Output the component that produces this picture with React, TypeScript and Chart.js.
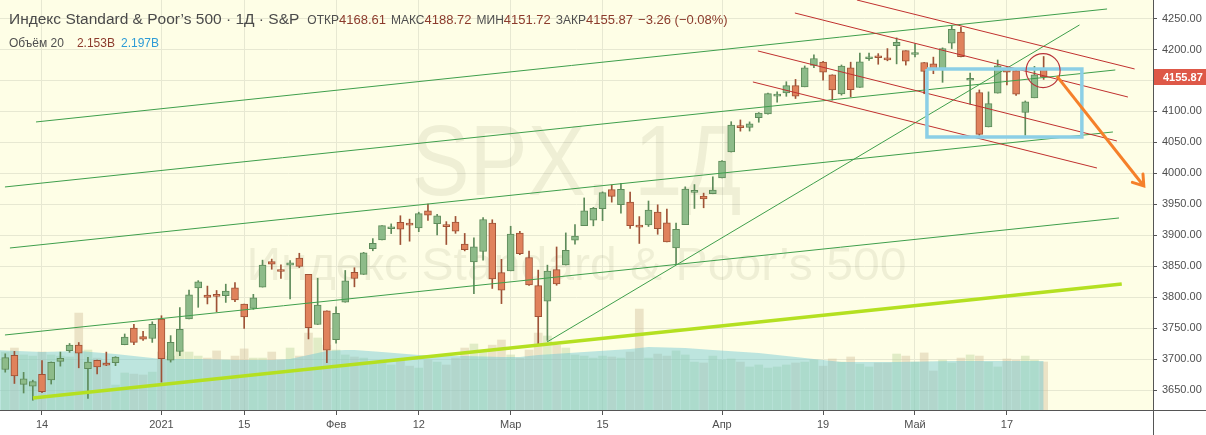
import React, { useEffect, useRef } from 'react';
import { Chart, registerables } from 'chart.js';

Chart.register(...registerables);

const FONT = "'Liberation Sans', Arial, sans-serif";

// ---- data ----
const dates: string[] = [
  '2020-12-08','2020-12-09','2020-12-10','2020-12-11','2020-12-14','2020-12-15','2020-12-16','2020-12-17','2020-12-18','2020-12-21','2020-12-22','2020-12-23','2020-12-24','2020-12-28','2020-12-29','2020-12-30','2020-12-31',
  '2021-01-04','2021-01-05','2021-01-06','2021-01-07','2021-01-08','2021-01-11','2021-01-12','2021-01-13','2021-01-14','2021-01-15','2021-01-19','2021-01-20','2021-01-21','2021-01-22','2021-01-25','2021-01-26','2021-01-27','2021-01-28','2021-01-29',
  '2021-02-01','2021-02-02','2021-02-03','2021-02-04','2021-02-05','2021-02-08','2021-02-09','2021-02-10','2021-02-11','2021-02-12','2021-02-16','2021-02-17','2021-02-18','2021-02-19','2021-02-22','2021-02-23','2021-02-24','2021-02-25','2021-02-26',
  '2021-03-01','2021-03-02','2021-03-03','2021-03-04','2021-03-05','2021-03-08','2021-03-09','2021-03-10','2021-03-11','2021-03-12','2021-03-15','2021-03-16','2021-03-17','2021-03-18','2021-03-19','2021-03-22','2021-03-23','2021-03-24','2021-03-25','2021-03-26','2021-03-29','2021-03-30','2021-03-31',
  '2021-04-01','2021-04-05','2021-04-06','2021-04-07','2021-04-08','2021-04-09','2021-04-12','2021-04-13','2021-04-14','2021-04-15','2021-04-16','2021-04-19','2021-04-20','2021-04-21','2021-04-22','2021-04-23','2021-04-26','2021-04-27','2021-04-28','2021-04-29','2021-04-30',
  '2021-05-03','2021-05-04','2021-05-05','2021-05-06','2021-05-07','2021-05-10','2021-05-11','2021-05-12','2021-05-13','2021-05-14','2021-05-17','2021-05-18','2021-05-19','2021-05-20','2021-05-21',
];

const openP: number[] = [
  3683.05,3705.98,3659.13,3656.08,3675.27,3666.41,3696.25,3713.65,3722.39,3684.28,3698.08,3693.42,3694.03,3723.03,3750.01,3736.19,3733.27,
  3764.61,3698.02,3712.20,3764.71,3815.05,3803.14,3801.62,3802.23,3814.98,3788.73,3781.88,3816.22,3857.46,3844.24,3851.68,3862.96,3836.83,3755.75,3778.05,
  3731.17,3791.84,3840.27,3836.66,3878.30,3892.59,3910.49,3920.78,3916.40,3911.65,3939.61,3918.50,3915.86,3921.16,3885.55,3857.07,3873.71,3919.74,3839.66,
  3842.51,3903.64,3863.99,3818.53,3793.58,3844.39,3851.93,3891.99,3915.54,3924.52,3942.96,3973.59,3949.57,3953.50,3913.14,3916.48,3937.60,3919.93,3879.34,3917.12,3969.31,3963.34,3967.25,
  3992.78,4034.44,4075.57,4074.29,4089.95,4096.11,4124.71,4130.10,4141.58,4139.76,4174.14,4179.80,4159.18,4128.42,4170.46,4138.78,4185.03,4188.25,4185.14,4206.14,4198.10,
  4191.98,4179.04,4177.06,4169.14,4210.34,4228.29,4150.34,4130.55,4074.99,4129.58,4169.92,4165.94,4098.45,4121.97,4168.61,
];
const highP: number[] = [
  3708.45,3712.39,3678.49,3665.91,3697.61,3695.29,3711.27,3725.12,3726.70,3702.90,3698.26,3711.24,3703.82,3740.51,3756.12,3744.63,3760.20,
  3769.99,3737.83,3783.04,3811.55,3826.69,3817.86,3810.78,3820.96,3823.60,3788.73,3804.53,3859.75,3861.45,3852.31,3859.23,3870.90,3836.83,3830.50,3778.05,
  3784.32,3843.09,3847.51,3872.42,3894.56,3915.77,3918.35,3931.50,3925.99,3937.23,3950.43,3933.61,3921.98,3930.41,3902.92,3895.98,3928.65,3925.02,3861.08,
  3914.50,3906.41,3874.47,3843.67,3851.69,3881.06,3903.76,3917.35,3960.27,3944.99,3970.08,3981.04,3983.87,3969.62,3930.12,3955.31,3949.13,3942.08,3919.54,3978.19,3981.83,3968.01,3994.41,
  4020.63,4083.42,4086.23,4083.13,4098.19,4129.48,4131.76,4148.00,4151.69,4173.49,4191.31,4180.81,4159.18,4175.02,4179.57,4194.17,4194.19,4193.35,4201.53,4218.78,4198.10,
  4209.39,4179.04,4187.72,4202.70,4238.04,4236.39,4162.04,4134.73,4131.58,4183.13,4171.92,4169.15,4116.93,4172.80,4188.72,
];
const lowP: number[] = [
  3678.83,3660.54,3645.18,3633.40,3645.84,3659.62,3688.57,3710.87,3685.84,3636.48,3676.16,3689.28,3689.32,3723.03,3723.31,3730.21,3726.88,
  3662.71,3695.07,3705.34,3764.71,3783.60,3789.02,3776.51,3791.50,3792.86,3749.62,3780.37,3816.22,3845.05,3830.41,3797.16,3847.78,3732.48,3755.75,3694.12,
  3725.62,3791.84,3816.68,3836.66,3874.93,3892.59,3902.64,3884.94,3890.39,3905.78,3923.85,3900.43,3885.03,3903.07,3874.71,3805.59,3859.60,3814.04,3789.54,
  3842.51,3868.57,3818.86,3723.34,3730.19,3819.25,3851.93,3885.73,3915.54,3915.21,3923.54,3953.44,3935.74,3910.86,3886.75,3914.16,3901.57,3889.07,3853.50,3917.12,3943.25,3944.35,3966.98,
  3992.78,4034.44,4068.14,4068.31,4082.54,4095.51,4114.82,4124.43,4120.87,4139.76,4170.75,4150.47,4118.38,4126.35,4123.69,4138.78,4182.36,4176.22,4181.78,4176.81,4174.85,
  4188.03,4128.59,4160.94,4147.02,4201.64,4188.13,4111.53,4056.88,4074.99,4129.58,4142.69,4125.99,4061.41,4121.97,4151.72,
];
const closeP: number[] = [
  3702.25,3672.82,3668.10,3663.46,3647.49,3694.62,3701.17,3722.48,3709.41,3694.92,3687.26,3690.01,3703.06,3735.36,3727.04,3732.04,3756.07,
  3700.65,3726.86,3748.14,3803.79,3824.68,3799.61,3801.19,3809.84,3795.54,3768.25,3798.91,3851.85,3853.07,3841.47,3855.36,3849.62,3750.77,3787.38,3714.24,
  3773.86,3826.31,3830.17,3871.74,3886.83,3915.59,3911.23,3909.88,3916.38,3934.83,3932.59,3931.33,3913.97,3906.71,3876.50,3881.37,3925.43,3829.34,3811.15,
  3901.82,3870.29,3819.72,3768.47,3841.94,3821.35,3875.44,3898.81,3939.34,3943.34,3968.94,3962.71,3974.12,3915.46,3913.10,3940.59,3910.52,3889.14,3909.52,3974.54,3971.09,3958.55,3972.89,
  4019.87,4077.91,4073.94,4079.95,4097.17,4128.80,4127.99,4141.59,4124.66,4170.42,4185.47,4163.26,4134.94,4173.42,4134.98,4180.17,4187.62,4186.72,4183.18,4211.47,4181.17,
  4192.66,4164.66,4167.59,4201.62,4232.60,4188.43,4152.10,4063.04,4112.50,4173.85,4163.29,4127.83,4115.68,4159.12,4155.87,
];

// volume in billions
const volumeB: number[] = [
  2.60,2.78,2.47,2.42,2.60,2.47,2.42,2.38,4.35,2.69,2.33,2.15,1.12,1.66,1.61,1.57,1.70,
  2.60,2.42,2.69,2.60,2.42,2.33,2.65,2.24,2.42,2.74,2.33,2.33,2.60,2.24,2.78,2.42,3.45,3.23,2.91,
  2.69,2.47,2.38,2.33,2.15,2.11,2.02,2.24,1.97,1.88,2.24,2.15,2.02,2.33,2.78,2.96,2.60,2.91,3.14,
  2.47,2.33,2.69,3.45,3.32,2.91,2.78,2.47,2.42,2.33,2.42,2.38,2.33,2.60,4.53,2.33,2.51,2.42,2.65,2.47,2.15,2.11,2.42,
  2.24,2.29,2.15,1.93,2.02,1.88,1.93,2.02,2.11,2.15,2.24,1.97,2.29,2.15,2.38,2.06,1.93,2.11,2.11,2.51,2.42,
  2.15,2.56,1.75,2.24,2.11,2.33,2.47,2.42,2.15,1.93,2.29,2.24,2.42,2.24,2.153,
];
// 20-bar volume average, read at [bar index, value]
const volumeMA: [number, number][] = [
  [-1, 2.69],[0, 2.67],[4, 2.60],[8, 2.65],[12, 2.51],[15, 2.38],[17, 2.29],[21, 2.29],[25, 2.24],[29, 2.24],
  [31, 2.29],[33, 2.47],[35, 2.65],[37, 2.69],[38, 2.69],[41, 2.60],[45, 2.47],[50, 2.42],[54, 2.38],[56, 2.38],
  [58, 2.47],[63, 2.60],[68, 2.74],[70, 2.83],[74, 2.78],[77, 2.69],[82, 2.56],[86, 2.38],[89, 2.24],[91, 2.15],
  [97, 2.15],[103, 2.20],[113, 2.197],
];

const tickDates = ['2020-12-14','2021-01-04','2021-01-15','2021-02-01','2021-02-12','2021-03-01','2021-03-15','2021-04-01','2021-04-19','2021-05-03','2021-05-17'];
const tickLabels = ['14','2021','15','Фев','12','Мар','15','Апр','19','Май','17'];

const priceMin = 3617.7;
const priceMax = 4280;
const priceStep = 50;
const barMin = -0.57;
const barMax = 124.9;
const volumeMax = 18.39;

// drawings: [bar index, price]
const channelGreen: [number, number][][] = [
  [[3.35, 4083], [119.9, 4265.5]],
  [[-0.03, 3978], [120.8, 4167]],
  [[0.51, 3879.4], [120.54, 4066.8]],
  [[-0.03, 3738.9], [121.2, 3927.9]],
];
const diagonalGreen: [number, number][] = [[58.95, 3727.5], [116.9, 4239.7]];
const supportLine: [number, number][] = [[3.02, 3637], [121.5, 3821.2]];
const channelRed: [number, number][][] = [
  [[92.68, 4280], [122.9, 4168.6]],
  [[85.93, 4259], [122.17, 4123.3]],
  [[81.9, 4197.7], [120.97, 4052.3]],
  [[81.36, 4147.6], [118.8, 4008.6]],
];
const boxX = [100.3, 117.16];
const boxY = [4058.7, 4168.6];
const circleAt: [number, number] = [112.94, 4166];
const arrowPath: [number, number][] = [[114.44, 4157], [123.9, 3979.6]];

const TITLE = 'Индекс Standard & Poor’s 500 · 1Д · S&P';
const WM_BIG = 'SPX, 1Д';
const WM_SMALL = 'Индекс Standard & Poor’s 500';
const CHANGE_TEXT = '−3.26 (−0.08%)';
const VOL_LABEL = 'Объём 20';

const BG = '#fefee6';
const GRID = '#e7e8d2';
const AXIS = '#555555';
const TEXT = '#4f4f4f';
const VAL = '#8c3b2c';
const G_FILL = '#8dbb89';
const G_LINE = '#5e8b5a';
const R_FILL = '#e0825c';
const R_LINE = '#9e5236';

export default function App() {
  const ref = useRef<HTMLCanvasElement>(null);

  useEffect(() => {
    const canvas = ref.current;
    if (!canvas) return;
    const xs = dates.map((_, i) => i);
    const up = closeP.map((c, i) => c >= openP[i]);
    const tickIdx = tickDates.map((d) => dates.indexOf(d));

    const seg = (pts: [number, number][], color: string, width: number, order: number, label = '') => ({
      type: 'line' as const,
      label,
      data: pts.map(([x, y]) => ({ x, y })),
      borderColor: color,
      borderWidth: width,
      pointRadius: 0,
      fill: false,
      tension: 0,
      order,
      yAxisID: 'y',
      clip: 0,
      borderCapStyle: 'butt' as const,
    });

    const datasets: any[] = [
      {
        type: 'bar',
        label: 'vol',
        data: xs.map((x, i) => ({ x, y: volumeB[i] })),
        yAxisID: 'yv',
        backgroundColor: up.map((u) => (u ? 'rgba(190,215,160,0.45)' : 'rgba(212,196,160,0.45)')),
        barThickness: 8,
        grouped: false,
        order: 20,
      },
      {
        type: 'line',
        label: 'volma',
        data: volumeMA.map(([x, y]) => ({ x, y })),
        yAxisID: 'yv',
        fill: 'origin',
        backgroundColor: 'rgba(100,196,212,0.42)',
        borderColor: 'rgba(100,196,212,0.0)',
        borderWidth: 0,
        pointRadius: 0,
        tension: 0,
        order: 19,
        clip: 0,
      },
      {
        type: 'bar',
        label: 'wick',
        data: xs.map((x, i) => ({ x, y: [lowP[i], highP[i]] })),
        yAxisID: 'y',
        backgroundColor: up.map((u) => (u ? G_LINE : R_LINE)),
        barThickness: 1,
        grouped: false,
        order: 18,
      },
      {
        type: 'bar',
        label: 'body',
        data: xs.map((x, i) => ({ x, y: [openP[i], closeP[i]] })),
        yAxisID: 'y',
        backgroundColor: up.map((u) => (u ? G_FILL : R_FILL)),
        borderColor: up.map((u) => (u ? G_LINE : R_LINE)),
        borderWidth: 1,
        borderSkipped: false,
        barThickness: 7,
        minBarLength: 2,
        grouped: false,
        order: 17,
      },
      ...channelGreen.map((l) => seg(l, '#3f9f4c', 1, 10)),
      seg(diagonalGreen, '#3f9f4c', 1, 10),
      seg(supportLine, '#b4e021', 3.5, 9),
      ...channelRed.map((l) => seg(l, '#c0302e', 1, 8)),
      {
        ...seg(
          [
            [boxX[0], boxY[1]],
            [boxX[1], boxY[1]],
            [boxX[1], boxY[0]],
            [boxX[0], boxY[0]],
            [boxX[0], boxY[1]],
          ],
          '#8ccfe6',
          3.5,
          6,
        ),
        borderJoinStyle: 'miter',
      },
      {
        type: 'line',
        label: 'circle',
        data: [{ x: circleAt[0], y: circleAt[1] }],
        showLine: false,
        pointRadius: 17,
        pointStyle: 'circle',
        pointBackgroundColor: 'rgba(0,0,0,0)',
        pointBorderColor: '#b8343a',
        pointBorderWidth: 1.2,
        order: 5,
        yAxisID: 'y',
      },
      seg(arrowPath, '#f5802a', 3, 4, 'arrow'),
    ];

    const bgPlugin = {
      id: 'bgPlugin',
      beforeDraw(chart: any) {
        const { ctx, chartArea: a } = chart;
        ctx.save();
        ctx.fillStyle = '#ffffff';
        ctx.fillRect(0, 0, chart.width, chart.height);
        ctx.fillStyle = BG;
        ctx.fillRect(a.left, a.top, a.right - a.left, a.bottom - a.top);
        ctx.restore();
      },
    };

    const fitText = (ctx: CanvasRenderingContext2D, text: string, cx: number, base: number, font: string, width: number) => {
      ctx.font = font;
      const w = ctx.measureText(text).width;
      ctx.save();
      ctx.translate(cx, base);
      ctx.scale(width / w, 1);
      ctx.fillText(text, 0, 0);
      ctx.restore();
    };

    const watermark = {
      id: 'watermark',
      beforeDatasetsDraw(chart: any) {
        const { ctx, chartArea: a } = chart;
        const cx = (a.left + a.right) / 2;
        const h = a.bottom - a.top;
        ctx.save();
        ctx.fillStyle = 'rgba(60,60,20,0.075)';
        ctx.textAlign = 'center';
        ctx.textBaseline = 'alphabetic';
        fitText(ctx, WM_BIG, cx, a.top + h * 0.476, `100px ${FONT}`, 330);
        fitText(ctx, WM_SMALL, cx, a.top + h * 0.683, `46px ${FONT}`, 660);
        ctx.restore();
      },
    };

    const overlay = {
      id: 'overlay',
      afterDatasetsDraw(chart: any) {
        const { ctx } = chart;
        const idx = chart.data.datasets.findIndex((d: any) => d.label === 'arrow');
        const meta = chart.getDatasetMeta(idx);
        const p0 = meta.data[0];
        const p1 = meta.data[1];
        const ang = Math.atan2(p1.y - p0.y, p1.x - p0.x);
        const L = 12;
        ctx.save();
        ctx.strokeStyle = '#f5802a';
        ctx.lineWidth = 3;
        ctx.lineCap = 'round';
        ctx.beginPath();
        ctx.moveTo(p1.x - L * Math.cos(ang - 0.6), p1.y - L * Math.sin(ang - 0.6));
        ctx.lineTo(p1.x, p1.y);
        ctx.lineTo(p1.x - L * Math.cos(ang + 0.6), p1.y - L * Math.sin(ang + 0.6));
        ctx.stroke();
        ctx.restore();
      },
      afterDraw(chart: any) {
        const { ctx, chartArea: a } = chart;
        ctx.save();
        ctx.strokeStyle = AXIS;
        ctx.lineWidth = 1;
        ctx.beginPath();
        ctx.moveTo(Math.round(a.right) + 0.5, 0);
        ctx.lineTo(Math.round(a.right) + 0.5, chart.height);
        ctx.moveTo(0, Math.round(a.bottom) + 0.5);
        ctx.lineTo(chart.width, Math.round(a.bottom) + 0.5);
        ctx.stroke();
        const last = closeP[closeP.length - 1];
        const y = chart.scales.y.getPixelForValue(last);
        ctx.fillStyle = '#de5848';
        ctx.fillRect(Math.round(a.right) + 1, Math.round(y) - 8, chart.width - a.right, 16);
        ctx.fillStyle = '#ffffff';
        ctx.font = `bold 11px ${FONT}`;
        ctx.textBaseline = 'middle';
        ctx.textAlign = 'left';
        ctx.fillText(last.toFixed(2), a.right + 10, Math.round(y) + 0.5);
        ctx.restore();
      },
    };

    const chart = new Chart(canvas, {
      type: 'bar',
      data: { datasets },
      options: {
        responsive: false,
        maintainAspectRatio: false,
        animation: false,
        devicePixelRatio: 1,
        events: [],
        layout: { padding: 0, autoPadding: false },
        plugins: { legend: { display: false }, tooltip: { enabled: false } },
        scales: {
          x: {
            type: 'linear',
            min: barMin,
            max: barMax,
            offset: false,
            position: 'bottom',
            afterBuildTicks: (s: any) => {
              s.ticks = tickIdx.map((v) => ({ value: v }));
            },
            afterFit: (s: any) => {
              s.height = 25;
              s.paddingLeft = 0;
              s.paddingRight = 0;
            },
            ticks: {
              autoSkip: false,
              maxRotation: 0,
              minRotation: 0,
              color: TEXT,
              padding: 3,
              font: { family: FONT, size: 11 },
              callback: (v: any) => {
                const k = tickIdx.indexOf(Number(v));
                return k >= 0 ? tickLabels[k] : '';
              },
            },
            grid: { color: GRID, tickColor: AXIS, tickLength: 5, offset: false },
            border: { color: AXIS, width: 1 },
          },
          y: {
            type: 'linear',
            position: 'right',
            min: priceMin,
            max: priceMax,
            beginAtZero: false,
            afterFit: (s: any) => {
              s.width = 53;
              s.paddingTop = 0;
              s.paddingBottom = 0;
            },
            ticks: {
              stepSize: priceStep,
              includeBounds: false,
              color: TEXT,
              padding: 5,
              font: { family: FONT, size: 11 },
              callback: (v: any) => Number(v).toFixed(2),
            },
            grid: { color: GRID, tickColor: AXIS, tickLength: 4 },
            border: { color: AXIS, width: 1 },
          },
          yv: {
            type: 'linear',
            display: false,
            min: 0,
            max: volumeMax,
          },
        },
      } as any,
      plugins: [bgPlugin, watermark, overlay],
    });
    return () => chart.destroy();
  }, []);

  const n = closeP.length - 1;
  const lab: React.CSSProperties = { fontSize: 12, color: TEXT };
  const val: React.CSSProperties = { fontSize: 13, color: VAL, marginRight: 5 };
  return (
    <div style={{ position: 'fixed', left: 0, top: 0, width: 1206, height: 435, background: '#fff', overflow: 'hidden' }}>
      <canvas ref={ref} width={1206} height={435} style={{ position: 'absolute', left: 0, top: 0, width: 1206, height: 435 }} />
      <div style={{ position: 'absolute', left: 9, top: 9, fontFamily: FONT, whiteSpace: 'nowrap', display: 'flex', alignItems: 'baseline', lineHeight: '20px' }}>
        <span style={{ fontSize: 15.5, color: '#4a4a4a', marginRight: 8 }}>{TITLE}</span>
        <span style={lab}>ОТКР</span>
        <span style={val}>{openP[n].toFixed(2)}</span>
        <span style={lab}>МАКС</span>
        <span style={val}>{highP[n].toFixed(2)}</span>
        <span style={lab}>МИН</span>
        <span style={val}>{lowP[n].toFixed(2)}</span>
        <span style={lab}>ЗАКР</span>
        <span style={val}>{closeP[n].toFixed(2)}</span>
        <span style={{ ...val, marginRight: 0 }}>{CHANGE_TEXT}</span>
      </div>
      <div style={{ position: 'absolute', left: 9, top: 35, fontFamily: FONT, whiteSpace: 'nowrap', fontSize: 12, lineHeight: '16px' }}>
        <span style={{ color: TEXT, marginRight: 13 }}>{VOL_LABEL}</span>
        <span style={{ color: VAL, marginRight: 6 }}>{volumeB[n].toFixed(3)}B</span>
        <span style={{ color: '#2d9bd6' }}>{volumeMA[volumeMA.length - 1][1].toFixed(3)}B</span>
      </div>
    </div>
  );
}
